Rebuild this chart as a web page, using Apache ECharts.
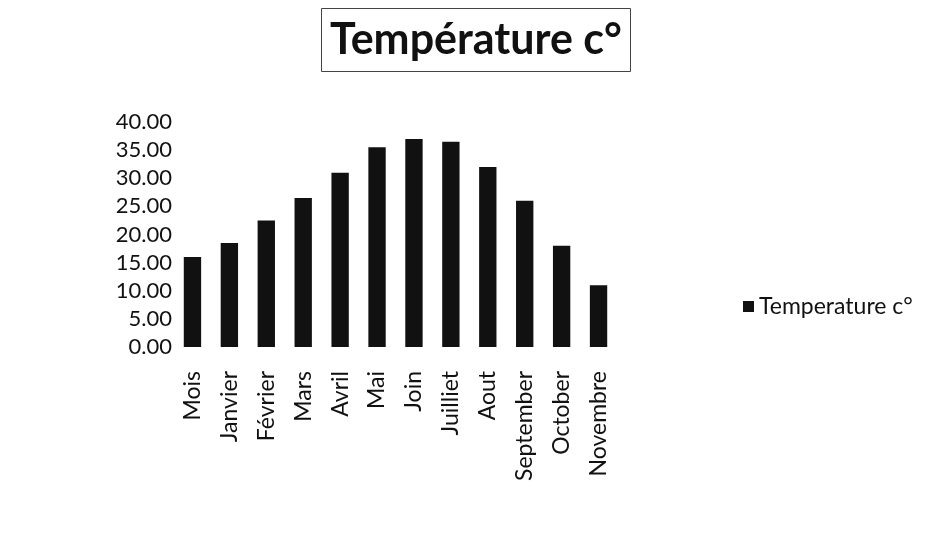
<!DOCTYPE html>
<html><head><meta charset="utf-8">
<script src="https://cdn.jsdelivr.net/npm/echarts@6/dist/echarts.min.js"></script>
<style>html,body{margin:0;padding:0;background:#fff}#c{width:929px;height:557px}</style>
</head><body><div id="c"></div>
<script>
const categories = ["Mois","Janvier","Février","Mars","Avril","Mai","Join","Juilliet","Aout","September","October","Novembre"];
const temperature = [16, 18.5, 22.5, 26.5, 31, 35.5, 37, 36.5, 32, 26, 18, 11];
const yTicks = {min: 0, max: 40, interval: 5};
const font = "Lato, 'Open Sans', sans-serif";
const chart = echarts.init(document.getElementById('c'));
chart.setOption({
  animation: false,
  title: {
    text: "Température c°", left: 467, top: 8, textAlign: 'center',
    borderColor: '#444', borderWidth: 1, padding: [11, 9, 10, 9],
    textStyle: {fontFamily: font, fontWeight: 'bold', fontSize: 43, color: '#111'}
  },
  legend: {
    left: 738, top: 290, itemWidth: 11, itemHeight: 11, icon: 'rect', itemGap: 5,
    textStyle: {fontFamily: font, fontSize: 23, color: '#111'},
    data: ["Temperature c°"]
  },
  grid: {left: 174, right: 312, top: 122, bottom: 210, containLabel: false},
  xAxis: {
    type: 'category', data: categories,
    axisLine: {show: false}, axisTick: {show: false},
    axisLabel: {rotate: 90, fontFamily: font, fontSize: 23, color: '#111', margin: 24, interval: 0}
  },
  yAxis: {
    type: 'value', min: yTicks.min, max: yTicks.max, interval: yTicks.interval,
    splitLine: {show: false}, axisLine: {show: false}, axisTick: {show: false},
    axisLabel: {fontFamily: font, fontSize: 22, color: '#111', margin: 2, formatter: v => v.toFixed(2)}
  },
  series: [{
    name: "Temperature c°", type: 'bar', data: temperature,
    barWidth: '47%', itemStyle: {color: '#111'}
  }]
});
</script></body></html>
